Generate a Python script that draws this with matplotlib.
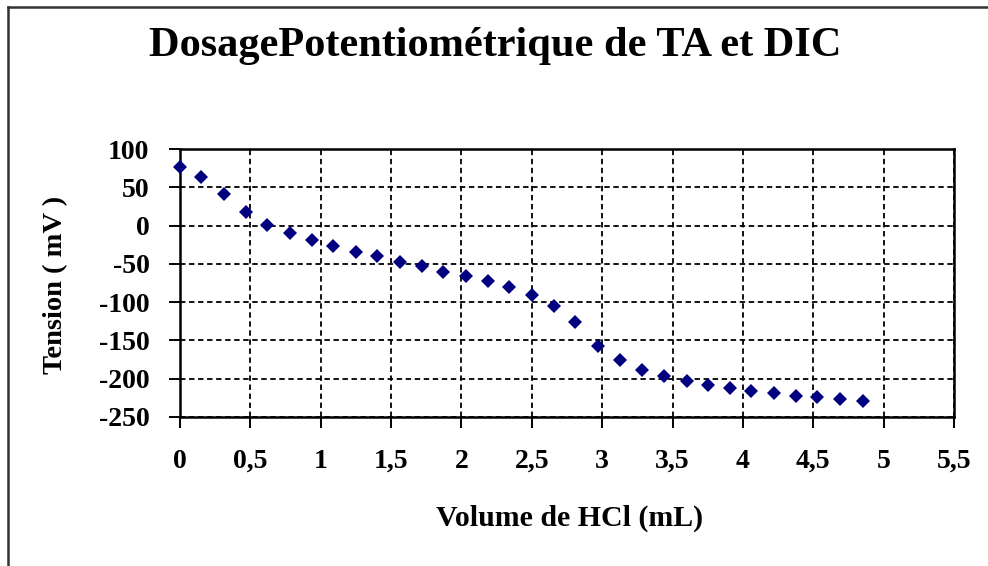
import matplotlib
matplotlib.use("Agg")
import matplotlib.pyplot as plt
from matplotlib.lines import Line2D
from matplotlib.ticker import MultipleLocator, FuncFormatter

volume = [0.00, 0.15, 0.31, 0.47, 0.62, 0.78, 0.94, 1.09, 1.25, 1.40, 1.56,
          1.72, 1.87, 2.03, 2.19, 2.34, 2.50, 2.66, 2.81, 2.97, 3.13, 3.28,
          3.44, 3.60, 3.75, 3.91, 4.06, 4.22, 4.38, 4.53, 4.69, 4.85]
tension = [76, 64, 41, 18, 1, -10, -19, -27, -34, -40, -47,
           -53, -60, -66, -73, -80, -91, -105, -126, -157, -176, -188,
           -197, -203, -208, -212, -216, -219, -222, -224, -226, -229]

title = "DosagePotentiométrique de TA et DIC"
xlabel = "Volume de HCl (mL)"
ylabel = "Tension ( mV )"

serif = ["Liberation Serif", "DejaVu Serif"]

fig = plt.figure(figsize=(9.88, 5.66), dpi=100)
ax = fig.add_axes([180/988, 1-417/566, (954-180)/988, (417-149)/566])

ax.plot(volume, tension, linestyle="none", marker="D", markersize=7.2,
        color="#000080", markeredgewidth=0, zorder=3, clip_on=False)

ax.set_xlim(0, 5.5)
ax.set_ylim(-250, 100)
ax.xaxis.set_major_locator(MultipleLocator(0.5))
ax.yaxis.set_major_locator(MultipleLocator(50))
ax.xaxis.set_major_formatter(FuncFormatter(lambda v, p: ("%g" % v).replace(".", ",")))
ax.yaxis.set_major_formatter(FuncFormatter(lambda v, p: "%d" % round(v)))

ax.grid(True, color="black", linestyle=(0, (3, 2)), linewidth=1.3)
for s in ax.spines.values():
    s.set_linewidth(1.8)
    s.set_color("black")
ax.tick_params(axis="both", direction="out", length=8, width=1.4, color="black")
ax.tick_params(axis="y", pad=14)
ax.tick_params(axis="x", pad=15)
for lab in ax.get_xticklabels() + ax.get_yticklabels():
    lab.set_fontfamily(serif)
    lab.set_fontweight("bold")
    lab.set_fontsize(20)

fig.text(495/988, 1-46/566, title, ha="center", va="center",
         fontfamily=serif, fontweight="bold", fontsize=30.5)
fig.text(570/988, 1-518/566, xlabel, ha="center", va="center",
         fontfamily=serif, fontweight="bold", fontsize=21.5)
fig.text(56/988, 1-285/566, ylabel, ha="center", va="center", rotation=90,
         fontfamily=serif, fontweight="bold", fontsize=20.5)

# outer frame (left and top edges)
fig.add_artist(Line2D([8/988, 8/988], [0, 1-7/566], transform=fig.transFigure,
                      color="#333333", linewidth=1.8))
fig.add_artist(Line2D([8/988, 1], [1-7/566, 1-7/566], transform=fig.transFigure,
                      color="#333333", linewidth=1.8))

fig.savefig("out.png", dpi=100)
